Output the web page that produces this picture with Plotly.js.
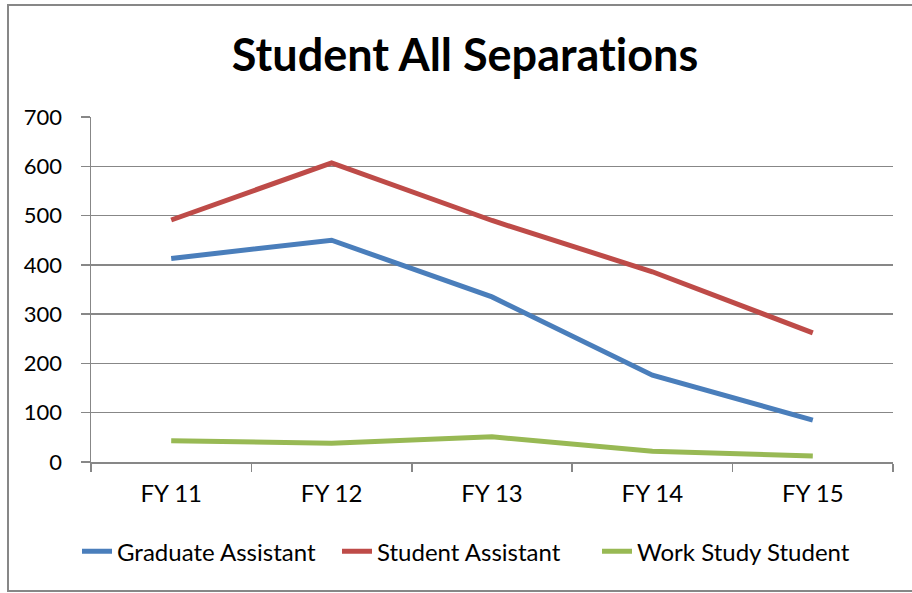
<!DOCTYPE html>
<html>
<head>
<meta charset="utf-8">
<script src="https://cdn.plot.ly/plotly-3.0.1.min.js"></script>
<style>
  body { margin: 0; background: #fff; }
  #chart { width: 912px; height: 593px; }
  #chart text { font-variant-ligatures: none; font-feature-settings: "liga" 0; }
</style>
</head>
<body>
<div id="chart"></div>
<script>
// Student separations per fiscal year
var years = ['FY 11', 'FY 12', 'FY 13', 'FY 14', 'FY 15'];
var graduateAssistant = [413, 450, 335, 176, 85];
var studentAssistant = [491, 607, 490, 386, 262];
var workStudy = [43, 38, 51, 22, 12];

var gridGray = '#878787';

function lineTrace(name, vals, color) {
    return {
        x: years,
        y: vals,
        name: name,
        type: 'scatter',
        mode: 'lines',
        line: { color: color, width: 5 }
    };
}

var data = [
    lineTrace('Graduate Assistant', graduateAssistant, '#4a7ebb'),
    lineTrace('Student Assistant', studentAssistant, '#be4b48'),
    lineTrace('Work Study Student', workStudy, '#98b954')
];

var layout = {
    width: 912,
    height: 593,
    margin: { l: 91, r: 19, t: 117, b: 131, autoexpand: false },
    paper_bgcolor: '#fff',
    plot_bgcolor: '#fff',
    font: { family: 'Lato, Carlito, sans-serif', size: 22, color: '#000' },
    title: {
        text: '<b>Student All Separations</b>',
        font: { size: 45, color: '#000' },
        x: 465 / 912, xanchor: 'center',
        y: 1 - 55 / 593, yanchor: 'middle'
    },
    showlegend: true,
    legend: {
        orientation: 'h',
        x: (467 - 91) / 802, xanchor: 'center',
        y: -0.26, yanchor: 'middle',
        font: { size: 24 },
        itemwidth: 30,
        entrywidth: 215,
        traceorder: 'normal'
    },
    xaxis: {
        type: 'category',
        range: [-0.5, 4.5],
        showgrid: false,
        showline: true,
        linecolor: gridGray,
        linewidth: 1.5,
        ticks: 'outside',
        tickson: 'boundaries',
        ticklen: 8,
        tickcolor: gridGray,
        tickwidth: 1.5,
        ticklabelstandoff: 10,
        tickfont: { size: 24 },
        fixedrange: true
    },
    yaxis: {
        range: [0, 700],
        dtick: 100,
        showgrid: true,
        gridcolor: gridGray,
        gridwidth: 1.5,
        zeroline: false,
        showline: true,
        linecolor: gridGray,
        linewidth: 1.5,
        ticks: 'outside',
        ticklen: 9,
        tickcolor: gridGray,
        tickwidth: 1.5,
        ticklabelstandoff: 14,
        fixedrange: true
    },
    shapes: [{
        // outer chart border
        type: 'rect', xref: 'paper', yref: 'paper',
        x0: (8 - 91) / 802, x1: (920 - 91) / 802,
        y0: (462 - 591) / 345, y1: (462 - 5) / 345,
        line: { color: gridGray, width: 2 },
        layer: 'below'
    }]
};

Plotly.newPlot('chart', data, layout, { displayModeBar: false, staticPlot: true });
</script>
</body>
</html>
